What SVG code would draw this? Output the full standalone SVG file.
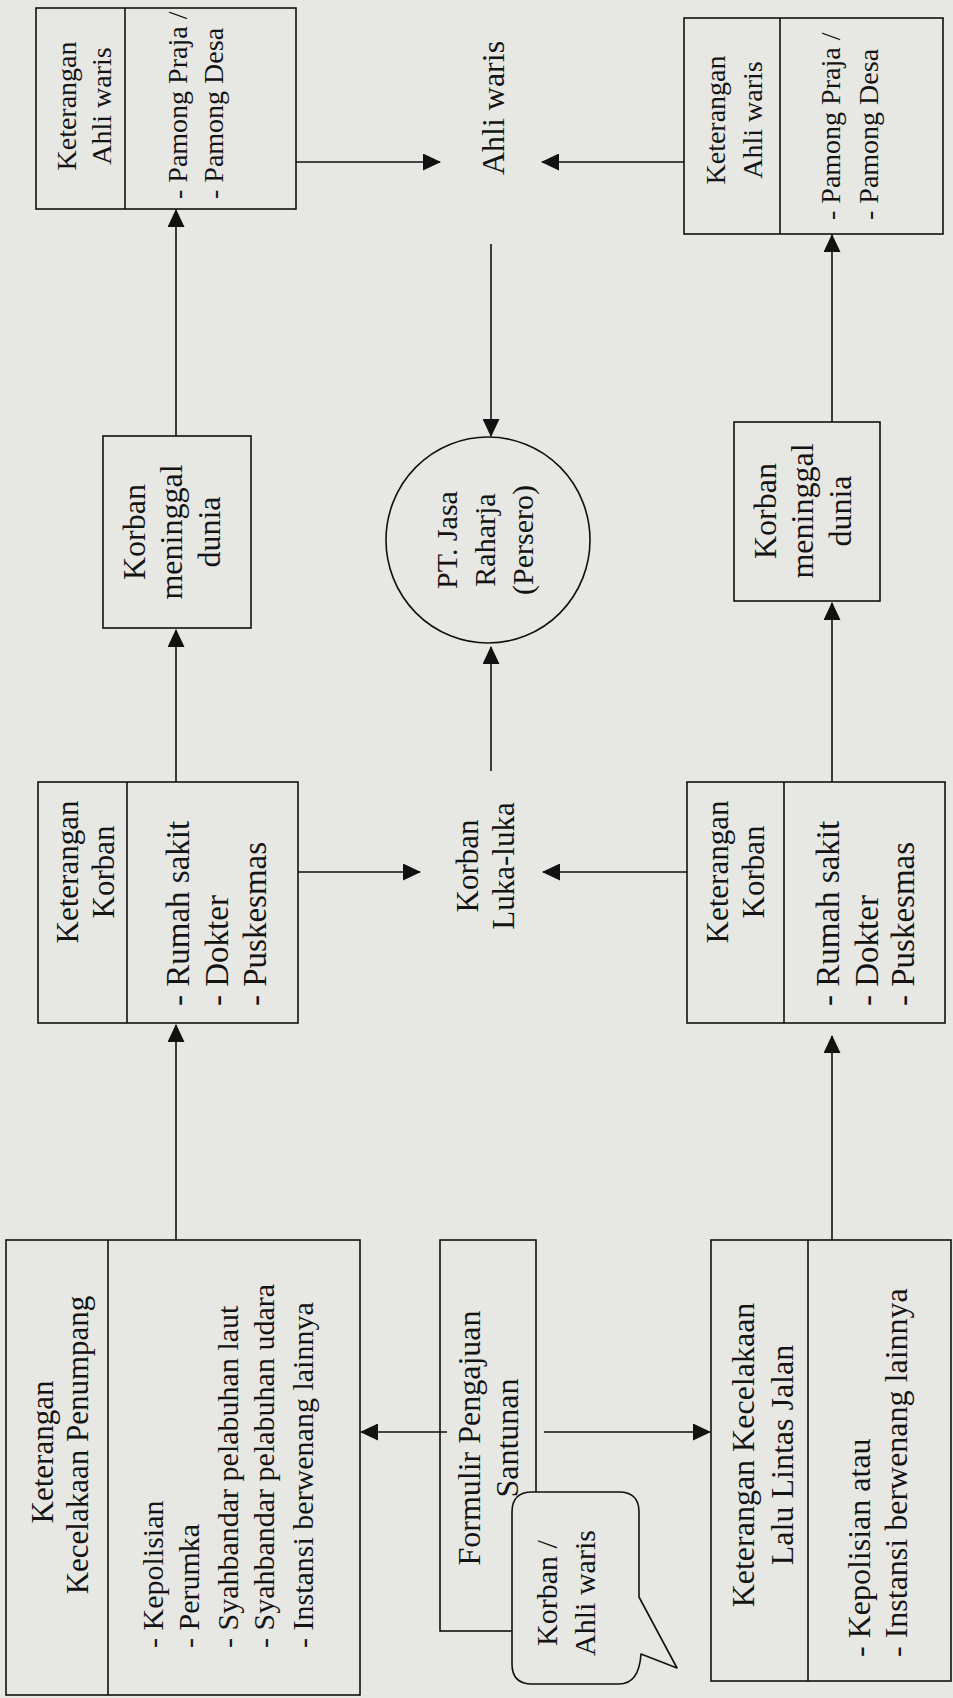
<svg xmlns="http://www.w3.org/2000/svg" width="953" height="1698" viewBox="0 0 953 1698">
<style>
.bg{fill:#e7e7e4}
.box{fill:none;stroke:#111;stroke-width:1.6}
.bub{fill:#e7e7e4;stroke:#111;stroke-width:1.6;stroke-linejoin:round}
.c{fill:none;stroke:#111;stroke-width:1.6}
text{font-family:"Liberation Serif","Times New Roman",serif;fill:#141414;dominant-baseline:central}
.m{text-anchor:middle}
.s{text-anchor:start}
.f28{font-size:28px}
.f31{font-size:31px}
.f30{font-size:30px}
.f32{font-size:32px}
.f33{font-size:33px}
</style>
<defs>
<marker id="ah" markerWidth="18" markerHeight="17" refX="17" refY="8.5" orient="auto" markerUnits="userSpaceOnUse">
<path d="M0,0 L18,8.5 L0,17 z" fill="#111"/>
</marker>
</defs>
<rect class="bg" x="0" y="0" width="953" height="1698"/>

<g id="connectors">
<path class="c" d="M176,436 V210" marker-end="url(#ah)"/>
<path class="c" d="M176,782 V630" marker-end="url(#ah)"/>
<path class="c" d="M176,1240 V1025" marker-end="url(#ah)"/>
<path class="c" d="M832,422 V235" marker-end="url(#ah)"/>
<path class="c" d="M832,782 V603" marker-end="url(#ah)"/>
<path class="c" d="M832,1240 V1036" marker-end="url(#ah)"/>
<path class="c" d="M296,162 H440" marker-end="url(#ah)"/>
<path class="c" d="M684,162 H542" marker-end="url(#ah)"/>
<path class="c" d="M491,244 V436" marker-end="url(#ah)"/>
<path class="c" d="M491,771 V647" marker-end="url(#ah)"/>
<path class="c" d="M298,872 H420" marker-end="url(#ah)"/>
<path class="c" d="M687,872 H543" marker-end="url(#ah)"/>
<path class="c" d="M447,1432 H361" marker-end="url(#ah)"/>
<path class="c" d="M544,1432 H710" marker-end="url(#ah)"/>
</g>

<g id="ket-ahliwaris-1">
<rect class="box" x="36" y="8" width="260" height="201"/>
<line class="box" x1="125" y1="8" x2="125" y2="209"/>
<text class="m f28" transform="translate(66,106) rotate(-90)">Keterangan</text>
<text class="m f28" transform="translate(101,106) rotate(-90)">Ahli waris</text>
<text class="s f28" transform="translate(177,199) rotate(-90)">- Pamong Praja /</text>
<text class="s f28" transform="translate(213,199) rotate(-90)">- Pamong Desa</text>
</g>

<g id="ket-ahliwaris-2">
<rect class="box" x="684" y="18" width="259" height="216"/>
<line class="box" x1="780" y1="18" x2="780" y2="234"/>
<text class="m f28" transform="translate(715,120) rotate(-90)">Keterangan</text>
<text class="m f28" transform="translate(752,120) rotate(-90)">Ahli waris</text>
<text class="s f28" transform="translate(830,220) rotate(-90)">- Pamong Praja /</text>
<text class="s f28" transform="translate(868,220) rotate(-90)">- Pamong Desa</text>
</g>

<g id="ahli-waris">
<text class="m f32" transform="translate(493,108) rotate(-90)">Ahli waris</text>
</g>

<g id="jasa-raharja">
<ellipse class="box" cx="488" cy="540" rx="102" ry="103"/>
<text class="m f30" transform="translate(446,540) rotate(-90)">PT. Jasa</text>
<text class="m f30" transform="translate(484,540) rotate(-90)">Raharja</text>
<text class="m f30" transform="translate(522,540) rotate(-90)">(Persero)</text>
</g>

<g id="meninggal-1">
<rect class="box" x="103" y="436" width="148" height="192"/>
<text class="m f32" transform="translate(134,532) rotate(-90)">Korban</text>
<text class="m f32" transform="translate(171,532) rotate(-90)">meninggal</text>
<text class="m f32" transform="translate(209,532) rotate(-90)">dunia</text>
</g>

<g id="meninggal-2">
<rect class="box" x="734" y="422" width="146" height="179"/>
<text class="m f32" transform="translate(765,511) rotate(-90)">Korban</text>
<text class="m f32" transform="translate(802,511) rotate(-90)">meninggal</text>
<text class="m f32" transform="translate(840,511) rotate(-90)">dunia</text>
</g>

<g id="ket-korban-1">
<rect class="box" x="38" y="782" width="260" height="241"/>
<line class="box" x1="127" y1="782" x2="127" y2="1023"/>
<text class="m f31" transform="translate(67,872) rotate(-90)">Keterangan</text>
<text class="m f31" transform="translate(103,872) rotate(-90)">Korban</text>
<text class="s f33" transform="translate(178,1006) rotate(-90)">- Rumah sakit</text>
<text class="s f33" transform="translate(217,1006) rotate(-90)">- Dokter</text>
<text class="s f33" transform="translate(255,1006) rotate(-90)">- Puskesmas</text>
</g>

<g id="ket-korban-2">
<rect class="box" x="687" y="782" width="258" height="241"/>
<line class="box" x1="784" y1="782" x2="784" y2="1023"/>
<text class="m f31" transform="translate(717,872) rotate(-90)">Keterangan</text>
<text class="m f31" transform="translate(753,872) rotate(-90)">Korban</text>
<text class="s f33" transform="translate(828,1006) rotate(-90)">- Rumah sakit</text>
<text class="s f33" transform="translate(867,1006) rotate(-90)">- Dokter</text>
<text class="s f33" transform="translate(903,1006) rotate(-90)">- Puskesmas</text>
</g>

<g id="luka-luka">
<text class="m f31" transform="translate(467,866) rotate(-90)">Korban</text>
<text class="m f31" transform="translate(503,866) rotate(-90)">Luka-luka</text>
</g>

<g id="ket-penumpang">
<rect class="box" x="6" y="1240" width="354" height="455"/>
<line class="box" x1="108" y1="1240" x2="108" y2="1695"/>
<text class="m f31" transform="translate(42,1452) rotate(-90)">Keterangan</text>
<text class="m f31" transform="translate(77,1445) rotate(-90)">Kecelakaan Penumpang</text>
<text class="s f30" transform="translate(152,1648) rotate(-90)">- Kepolisian</text>
<text class="s f30" transform="translate(188,1648) rotate(-90)">- Perumka</text>
<text class="s f30" transform="translate(227,1648) rotate(-90)">- Syahbandar pelabuhan laut</text>
<text class="s f30" transform="translate(263,1648) rotate(-90)">- Syahbandar pelabuhan udara</text>
<text class="s f30" transform="translate(302,1648) rotate(-90)">- Instansi berwenang lainnya</text>
</g>

<g id="formulir">
<rect class="box" x="440" y="1240" width="96" height="391"/>
<text class="m f32" transform="translate(469,1438) rotate(-90)">Formulir Pengajuan</text>
<text class="m f32" transform="translate(507,1438) rotate(-90)">Santunan</text>
</g>

<g id="callout">
<path class="bub" d="M532,1492 H619 Q639,1492 639,1512 V1597 L677,1668 L641,1654 Q639,1684 619,1684 H532 Q512,1684 512,1664 V1512 Q512,1492 532,1492 Z"/>
<text class="m f30" transform="translate(546,1593) rotate(-90)">Korban /</text>
<text class="m f30" transform="translate(584,1593) rotate(-90)">Ahli waris</text>
</g>

<g id="ket-lalulintas">
<rect class="box" x="711" y="1240" width="240" height="441"/>
<line class="box" x1="808" y1="1240" x2="808" y2="1681"/>
<text class="m f32" transform="translate(743,1455) rotate(-90)">Keterangan Kecelakaan</text>
<text class="m f32" transform="translate(782,1455) rotate(-90)">Lalu Lintas Jalan</text>
<text class="s f32" transform="translate(859,1657) rotate(-90)">- Kepolisian atau</text>
<text class="s f32" transform="translate(896,1657) rotate(-90)">- Instansi berwenang lainnya</text>
</g>
</svg>
